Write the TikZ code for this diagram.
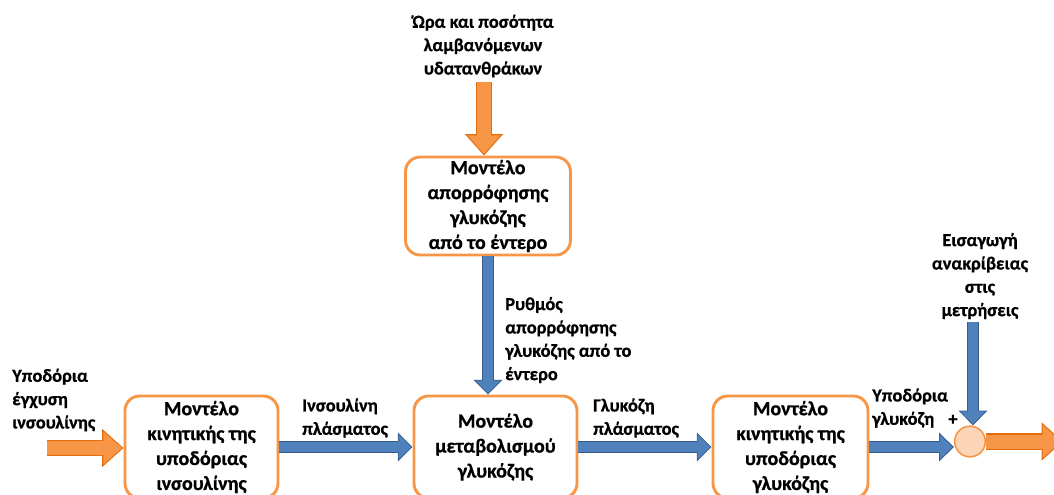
\documentclass[tikz,border=0pt]{standalone}
\usepackage{fontspec}
\setmainfont{Carlito}[BoldFeatures={FakeBold=0.8}]
\usetikzlibrary{arrows.meta}

\definecolor{boxorange}{HTML}{F79646}
\definecolor{orangeedge}{HTML}{E46C0A}
\definecolor{bluefill}{HTML}{4F81BD}
\definecolor{blueedge}{HTML}{385D8A}
\definecolor{sumfill}{HTML}{FBD5B5}

\tikzset{
  modelbox/.style={draw=boxorange, line width=2.2pt, rounded corners=11pt, fill=white,
    align=center, inner sep=2pt, font=\fontsize{15}{18.7}\selectfont\bfseries},
  lbl/.style={align=left, inner sep=0pt, font=\fontsize{13.8}{17.5}\selectfont\bfseries},
  bluearrow/.style={draw=bluefill, line width=7.5pt, shorten >=1pt,
    -{Triangle[length=9.5pt,width=18pt]},
    preaction={draw=blueedge, line width=9pt, shorten >=0pt, -{Triangle[length=11pt,width=21pt]}}},
  orangearrow/.style={draw=boxorange, line width=10.5pt, shorten >=1.2pt,
    -{Triangle[length=14pt,width=24pt]},
    preaction={draw=orangeedge, line width=12.5pt, shorten >=0pt, -{Triangle[length=16pt,width=27.5pt]}}}
}

\begin{document}
\begin{tikzpicture}[x=0.75pt, y=-0.75pt]
  \useasboundingbox (0,0) rectangle (1054,494);
  \clip (0,0) rectangle (1054,494);

  % model boxes
  \node[modelbox, minimum width=123.75pt, minimum height=73.5pt] (absorb) at (488,206)
    {Μοντέλο\\απορρόφησης\\γλυκόζης\\από το έντερο};
  \node[modelbox, minimum width=114.75pt, minimum height=76.5pt] (insulin) at (201.5,447)
    {Μοντέλο\\κινητικής της\\υποδόριας\\ινσουλίνης};
  \node[modelbox, minimum width=122.25pt, minimum height=76.5pt] (metab) at (495.5,447)
    {Μοντέλο\\μεταβολισμού\\γλυκόζης};
  \node[modelbox, minimum width=116.25pt, minimum height=76.5pt] (glucsub) at (790.5,447)
    {Μοντέλο\\κινητικής της\\υποδόριας\\γλυκόζης};
  \node[circle, draw=boxorange, line width=1.2pt, fill=sumfill, minimum size=23pt, inner sep=0pt] (sum) at (970,441.5) {};

  % labels
  \node[lbl, align=center] (carbtext) at (483,46) {Ώρα και ποσότητα\\λαμβανόμενων\\υδατανθράκων};
  \node[lbl, anchor=west] (ratetext) at (505,340) {Ρυθμός\\απορρόφησης\\γλυκόζης από το\\έντερο};
  \node[lbl, anchor=west] (injtext) at (12,400) {Υποδόρια\\έγχυση\\ινσουλίνης};
  \node[lbl, anchor=west] (instext) at (302,418) {Ινσουλίνη\\πλάσματος};
  \node[lbl, anchor=west] (gluctext) at (593,418) {Γλυκόζη\\πλάσματος};
  \node[lbl, anchor=west] (subtext) at (872,408) {Υποδόρια\\γλυκόζη};
  \node[lbl] (plus) at (953,420) {+};
  \node[lbl, align=center] (noisetext) at (980,276) {Εισαγωγή\\ανακρίβειας\\στις\\μετρήσεις};

  % connectors
  \coordinate (carbin) at (484,82);
  \coordinate (injin) at (47,448);
  \coordinate (noisein) at (973,322);
  \coordinate (glucout) at (1063,443);

  \draw[orangearrow] (carbin) -- (carbin |- absorb.north);
  \draw[orangearrow] (injin) -- (injin -| insulin.west);
  \draw[bluearrow] (absorb.south) -- (absorb.south |- metab.north);
  \draw[bluearrow] (insulin.east) -- (metab.west);
  \draw[bluearrow] (metab.east) -- (glucsub.west);
  \draw[bluearrow] (glucsub.east) -- (glucsub.east -| sum.west);
  \draw[bluearrow] (noisein) -- (noisein |- sum.north);
  \draw[orangearrow] (sum.east) -- (sum.east -| glucout);
\end{tikzpicture}
\end{document}
